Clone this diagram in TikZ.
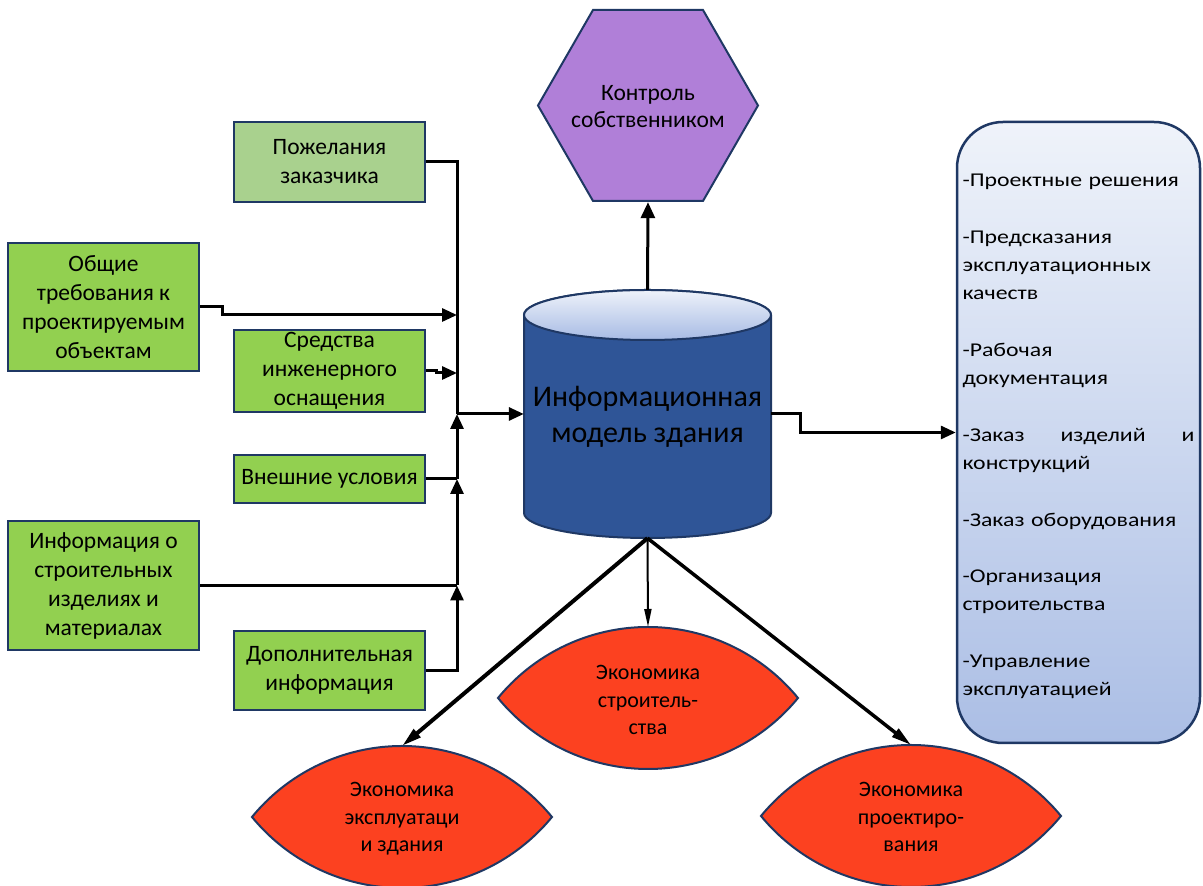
\documentclass[tikz,border=0pt]{standalone}
\usepackage{fontspec}
\setmainfont{Carlito}
\newfontfamily\listfont[FakeStretch=1.22]{Carlito}
\usetikzlibrary{arrows.meta,calc}

\definecolor{navy}{HTML}{1F3864}
\definecolor{grn}{HTML}{92D050}
\definecolor{lgrn}{HTML}{A9D18E}
\definecolor{purp}{HTML}{B07FD8}
\definecolor{cylblue}{HTML}{2F5597}
\definecolor{cyltopA}{HTML}{EEF2FA}
\definecolor{cyltopB}{HTML}{A7BBE4}
\definecolor{leafred}{HTML}{FC4120}
\definecolor{listA}{HTML}{EFF3FA}
\definecolor{listB}{HTML}{ABBEE5}

\begin{document}
\begin{tikzpicture}[x=1pt,y=1pt,
  inbox/.style={draw=navy, line width=2pt, fill=grn, minimum width=191pt,
    inner sep=2pt, align=center, font=\fontsize{23.5}{29}\selectfont},
  conn/.style={line width=3pt, black},
  tip/.style={-{Triangle[length=15pt,width=13pt]}},
  leaftip/.style={-{Triangle[length=20pt,width=10pt]}},
  leaf/.style={draw=navy, line width=2pt, fill=leafred},
  leaftext/.style={align=center, font=\fontsize{22}{27.5}\selectfont},
]
\useasboundingbox (0,0) rectangle (1203,886);

% --- cylinder: building information model
\draw[navy, line width=2pt, fill=cylblue]
  (524,571) arc[start angle=180, end angle=0, x radius=123.5, y radius=25]
  -- (771,373) arc[start angle=0, end angle=-180, x radius=123.5, y radius=25]
  -- cycle;
\shade[top color=cyltopA, bottom color=cyltopB]
  (647.5,571) ellipse[x radius=123.5, y radius=25];
\draw[navy, line width=2pt] (647.5,571) ellipse[x radius=123.5, y radius=25];
\node[minimum width=247pt, minimum height=248pt, inner sep=0pt] (bim) at (647.5,472) {};
\node[align=center, font=\fontsize{30}{36}\selectfont] (bimtext) at (647.5,469)
  {Информационная\\модель здания};

% --- hexagon: owner control
\draw[navy, line width=2pt, fill=purp]
  (538,780.5) -- (593,876) -- (703,876) -- (758,780.5) -- (703,685) -- (593,685) -- cycle;
\node[minimum width=220pt, minimum height=191pt, inner sep=0pt, align=center,
  font=\fontsize{23.5}{27}\selectfont] (ctl) at (648,779.5)
  {Контроль\\собственником};

% --- input boxes
\node[inbox, fill=lgrn, minimum height=80pt] (pz) at (329.5,724) {Пожелания\\заказчика};
\node[inbox, minimum height=128pt] (ob) at (103.5,579) {Общие\\требования к\\проектируемым\\объектам};
\node[inbox, minimum height=82pt] (sr) at (329.5,515) {Средства\\инженерного\\оснащения};
\node[inbox, minimum height=48pt] (vn) at (329.5,407) {Внешние условия};
\node[inbox, minimum height=129pt] (inf) at (103.5,300.5) {Информация о\\строительных\\изделиях и\\материалах};
\node[inbox, minimum height=79pt] (dp) at (329.5,215.5) {Дополнительная\\информация};

% --- collecting bus
\coordinate (bj)   at (457,472);
\coordinate (bob)  at (457,571);
\coordinate (bsr)  at (457,513);
\coordinate (bvn)  at (457,407);
\coordinate (binf) at (457,300.5);

\draw[conn] (pz.east) -| (bj);
\draw[conn,tip] (ob.east) -- ++(22,0) |- (bob);
\draw[conn,tip] (sr.east) -- ++(10,0) |- (bsr);
\draw[conn] (vn.east) -- (bvn);
\draw[conn] (inf.east) -- (binf);
\draw[conn,tip] (dp.east) -| (binf);
\draw[conn,tip] (binf) -- (bvn);
\draw[conn,tip] (bvn) -- (bj);
\draw[conn,tip] (bj) -- (bim.west);

% --- output list
\node[draw=navy, line width=2.5pt, rounded corners=46pt,
  top color=listA, bottom color=listB,
  minimum width=243pt, minimum height=621pt, inner sep=0pt] (out) at (1078.5,453.5) {};
\node[text width=232pt, inner sep=0pt, align=left,
  font=\listfont\fontsize{19.5}{28.3}\selectfont] (outtext) at (1078.5,449.5)
  {-Проектные решения\\[28.3pt]
   -Предсказания\\эксплуатационных\\качеств\\[28.3pt]
   -Рабочая\\документация\\[28.3pt]
   \makebox[232pt]{-Заказ\hfill изделий\hfill и}\\конструкций\\[28.3pt]
   -Заказ оборудования\\[28.3pt]
   -Организация\\строительства\\[28.3pt]
   -Управление\\эксплуатацией};

\draw[conn,tip] (bim.east) -- ++(29,0) |- (out.west);
\draw[conn,-{Triangle[length=16pt,width=14pt]}] (bim.north) -- (ctl.south);

% --- economics leaves
\draw[leaf] (498,188) arc[start angle=140.66, end angle=39.34, radius=193.95]
  arc[start angle=-39.34, end angle=-140.66, radius=193.95] -- cycle;
\draw[leaf] (252,69) arc[start angle=140.66, end angle=39.34, radius=193.95]
  arc[start angle=-39.34, end angle=-140.66, radius=193.95] -- cycle;
\draw[leaf] (761,70) arc[start angle=140.66, end angle=39.34, radius=193.95]
  arc[start angle=-39.34, end angle=-140.66, radius=193.95] -- cycle;

\node[leaftext] (ecs) at (648,186) {Экономика\\строитель-\\ства};
\node[leaftext] (ece) at (402,67) {Экономика\\эксплуатаци\\и здания};
\node[leaftext] (ecp) at (911,69) {Экономика\\проектиро-\\вания};

\coordinate (ecstop) at (648,259);
\coordinate (ecetop) at (402,140);
\coordinate (ecptop) at (911,141);

\draw[line width=4pt, leaftip] (bim.south) -- (ecetop);
\draw[line width=2pt, -{Triangle[length=18pt,width=7pt]}] (bim.south) -- (ecstop);
\draw[line width=3.5pt, leaftip] (bim.south) -- (ecptop);
\end{tikzpicture}
\end{document}
